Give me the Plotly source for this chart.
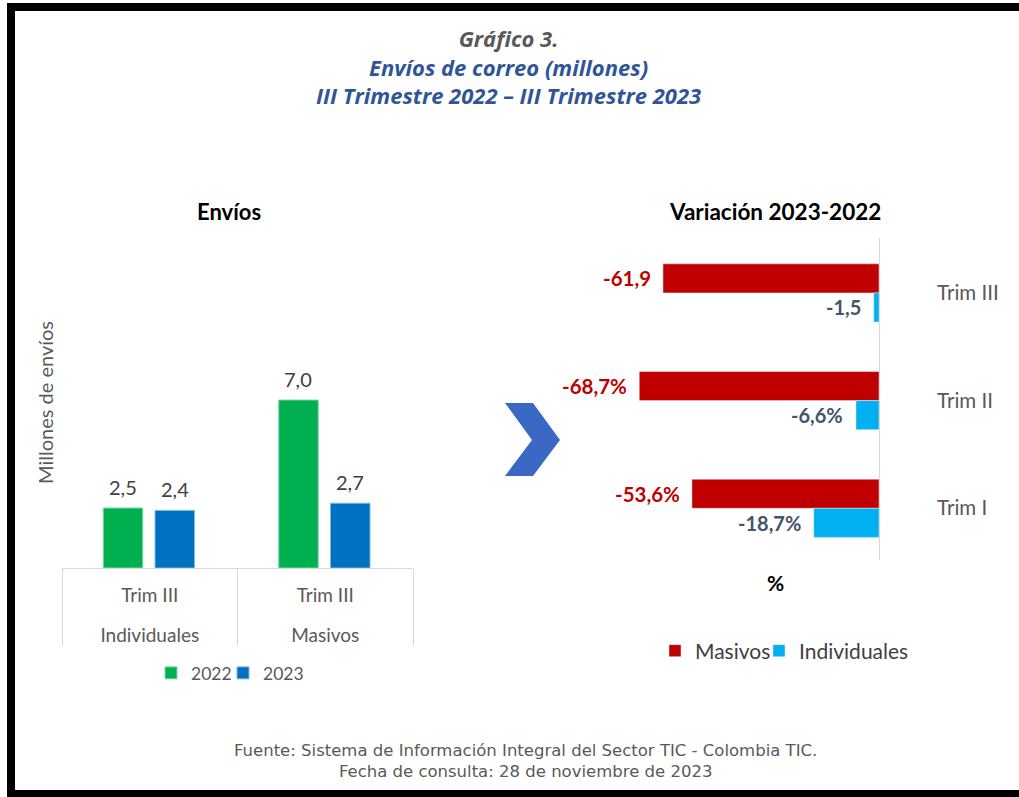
import plotly.graph_objects as go

W, H = 1019, 797

def px(x):
    return x / W

def py(y):
    return 1 - y / H

# ---------------- data ----------------
env_groups = ["Individuales", "Masivos"]
env_periods = ["Trim III", "Trim III"]
env_2022 = [2.5, 7.0]
env_2023 = [2.4, 2.7]
env_2022_labels = ["2,5", "7,0"]
env_2023_labels = ["2,4", "2,7"]

var_cats = ["Trim I", "Trim II", "Trim III"]
var_masivos = [-53.6, -68.7, -61.9]
var_individuales = [-18.7, -6.6, -1.5]
var_masivos_labels = ["-53,6%", "-68,7%", "-61,9"]
var_individuales_labels = ["-18,7%", "-6,6%", "-1,5"]

GREEN = "#00B050"
BLUE = "#0070C0"
RED = "#C00000"
CYAN = "#00B0F0"
GRAY = "#595959"
CHART_FONT = "Lato"
TITLE_FONT = "Open Sans"
FOOT_FONT = "DejaVu Sans"

fig = go.Figure()

# ---------------- left chart: Envíos ----------------
# outer category level drawn one (blank) line lower, as in the reference
outer_labels = ["<br>" + g for g in env_groups]
w_left = 0.225
off_2022 = -0.265
off_2023 = 0.03
fig.add_trace(go.Bar(
    x=[outer_labels, env_periods], y=env_2022, name="2022",
    marker=dict(color=GREEN, line=dict(color="#7FD8A8", width=1)),
    width=w_left, offset=off_2022, xaxis="x", yaxis="y", legend="legend",
    legendwidth=27, hoverinfo="skip",
))
fig.add_trace(go.Bar(
    x=[outer_labels, env_periods], y=env_2023, name="2023",
    marker=dict(color=BLUE, line=dict(color="#7FB8E0", width=1)),
    width=w_left, offset=off_2023, xaxis="x", yaxis="y", legend="legend",
    hoverinfo="skip",
))

annotations = []
for i, (v, t) in enumerate(zip(env_2022, env_2022_labels)):
    annotations.append(dict(x=i + off_2022 + w_left / 2, y=v, xref="x", yref="y",
                            text=t, showarrow=False, xanchor="center", yanchor="bottom", yshift=7,
                            font=dict(family=CHART_FONT, size=20, color="#404040")))
for i, (v, t) in enumerate(zip(env_2023, env_2023_labels)):
    annotations.append(dict(x=i + off_2023 + w_left / 2, y=v, xref="x", yref="y",
                            text=t, showarrow=False, xanchor="center", yanchor="bottom", yshift=7,
                            font=dict(family=CHART_FONT, size=20, color="#404040")))

# ---------------- right chart: Variación ----------------
w_right = 0.27
fig.add_trace(go.Bar(
    y=var_cats, x=var_masivos, orientation="h", name="Masivos",
    marker=dict(color=RED), width=w_right, offset=0,
    xaxis="x2", yaxis="y2", legend="legend2", legendwidth=59, hoverinfo="skip",
))
fig.add_trace(go.Bar(
    y=var_cats, x=var_individuales, orientation="h", name="Individuales",
    marker=dict(color=CYAN), width=w_right, offset=-w_right,
    xaxis="x2", yaxis="y2", legend="legend2", hoverinfo="skip",
))

for i, (v, t) in enumerate(zip(var_masivos, var_masivos_labels)):
    annotations.append(dict(x=v, y=i + w_right / 2, xref="x2", yref="y2", text="<b>%s</b>" % t,
                            showarrow=False, xanchor="right", yanchor="middle", xshift=-10,
                            font=dict(family=CHART_FONT, size=20.5, color=RED)))
for i, (v, t) in enumerate(zip(var_individuales, var_individuales_labels)):
    annotations.append(dict(x=v, y=i - w_right / 2, xref="x2", yref="y2", text="<b>%s</b>" % t,
                            showarrow=False, xanchor="right", yanchor="middle", xshift=-11,
                            font=dict(family=CHART_FONT, size=20, color="#44546A")))

def paper_text(x, y, text, font, angle=0):
    return dict(x=px(x), y=py(y), xref="paper", yref="paper", text=text, showarrow=False,
                xanchor="center", yanchor="middle", textangle=angle, font=font, align="center")

title_text = ("<b><i><span style='color:#595959'>Gráfico 3.</span><br>"
              "Envíos de correo (millones)<br>"
              "III Trimestre 2022 – III Trimestre 2023</i></b>")

annotations += [
    paper_text(229, 212, "<b>Envíos</b>", dict(family=CHART_FONT, size=22, color="#000000")),
    paper_text(775, 212, "<b>Variación 2023-2022</b>", dict(family=CHART_FONT, size=22.5, color="#000000")),
    paper_text(775, 582, "<b>%</b>", dict(family=CHART_FONT, size=21, color="#000000")),
    paper_text(45, 403, "Millones de envíos", dict(family=CHART_FONT, size=20, color=GRAY), angle=-90),
    paper_text(508, 66, title_text, dict(family=TITLE_FONT, size=22, color="#2F5597")),
    paper_text(525, 761,
               "Fuente: Sistema de Información Integral del Sector TIC - Colombia TIC.<br>"
               "Fecha de consulta: 28 de noviembre de 2023",
               dict(family=FOOT_FONT, size=16.5, color="#595959")),
]

# chevron arrow
chev = [(505, 403), (533, 403), (560, 440), (533, 476), (505, 476), (532, 440)]
path = "M " + " L ".join("%.5f,%.5f" % (px(x), py(y)) for x, y in chev) + " Z"

shapes = [
    dict(type="path", path=path, xref="paper", yref="paper",
         fillcolor="#3A68C4", line=dict(width=0)),
    # frame
    dict(type="rect", xref="paper", yref="paper", x0=px(7), x1=1.0, y0=py(11), y1=py(3),
         fillcolor="#000000", line=dict(width=0)),
    dict(type="rect", xref="paper", yref="paper", x0=px(7), x1=px(15), y0=0, y1=py(3),
         fillcolor="#000000", line=dict(width=0)),
    dict(type="rect", xref="paper", yref="paper", x0=px(7), x1=1.0, y0=0, y1=py(790),
         fillcolor="#000000", line=dict(width=0)),
]

fig.update_layout(
    width=W, height=H,
    margin=dict(l=0, r=0, t=0, b=0),
    paper_bgcolor="white", plot_bgcolor="white",
    separators=",.",
    barmode="group",
    showlegend=True,
    font=dict(family=CHART_FONT, color=GRAY),
    xaxis=dict(domain=[px(62), px(413)], type="multicategory", range=[-0.5, 1.5],
               showline=True, linecolor="#D9D9D9", linewidth=1,
               showdividers=True, dividercolor="#D9D9D9", dividerwidth=1,
               ticks="", ticklabelstandoff=10,
               tickfont=dict(family=CHART_FONT, size=19, color=GRAY),
               showgrid=False, zeroline=False, fixedrange=True),
    yaxis=dict(domain=[py(568), py(235)], range=[0, 13.875], showticklabels=False,
               showgrid=False, zeroline=False, showline=False, fixedrange=True),
    xaxis2=dict(domain=[px(600), px(879)], range=[-(879 - 600) / 3.49, 0], anchor="y2",
                showticklabels=False, showgrid=False, zeroline=False, showline=False,
                fixedrange=True),
    yaxis2=dict(domain=[py(560), py(238)], range=[-0.48, 2.51], anchor="x2", side="right",
                type="category", showline=True, linecolor="#D9D9D9", linewidth=1,
                ticks="", ticklabelstandoff=53,
                tickfont=dict(family=CHART_FONT, size=20.5, color=GRAY),
                showgrid=False, zeroline=False, fixedrange=True),
    legend=dict(orientation="h", x=px(151), xanchor="left", y=py(673), yanchor="middle",
                font=dict(family=CHART_FONT, size=17.5, color=GRAY), bgcolor="rgba(0,0,0,0)",
                itemwidth=30, traceorder="normal"),
    legend2=dict(orientation="h", x=px(655), xanchor="left", y=py(651), yanchor="middle",
                 font=dict(family=CHART_FONT, size=21, color="#404040"), bgcolor="rgba(0,0,0,0)",
                 itemwidth=30, traceorder="normal"),
    annotations=annotations,
    shapes=shapes,
)

fig.write_html("out.html", config={"displayModeBar": False},
               post_script="document.body.style.margin='0px';")
